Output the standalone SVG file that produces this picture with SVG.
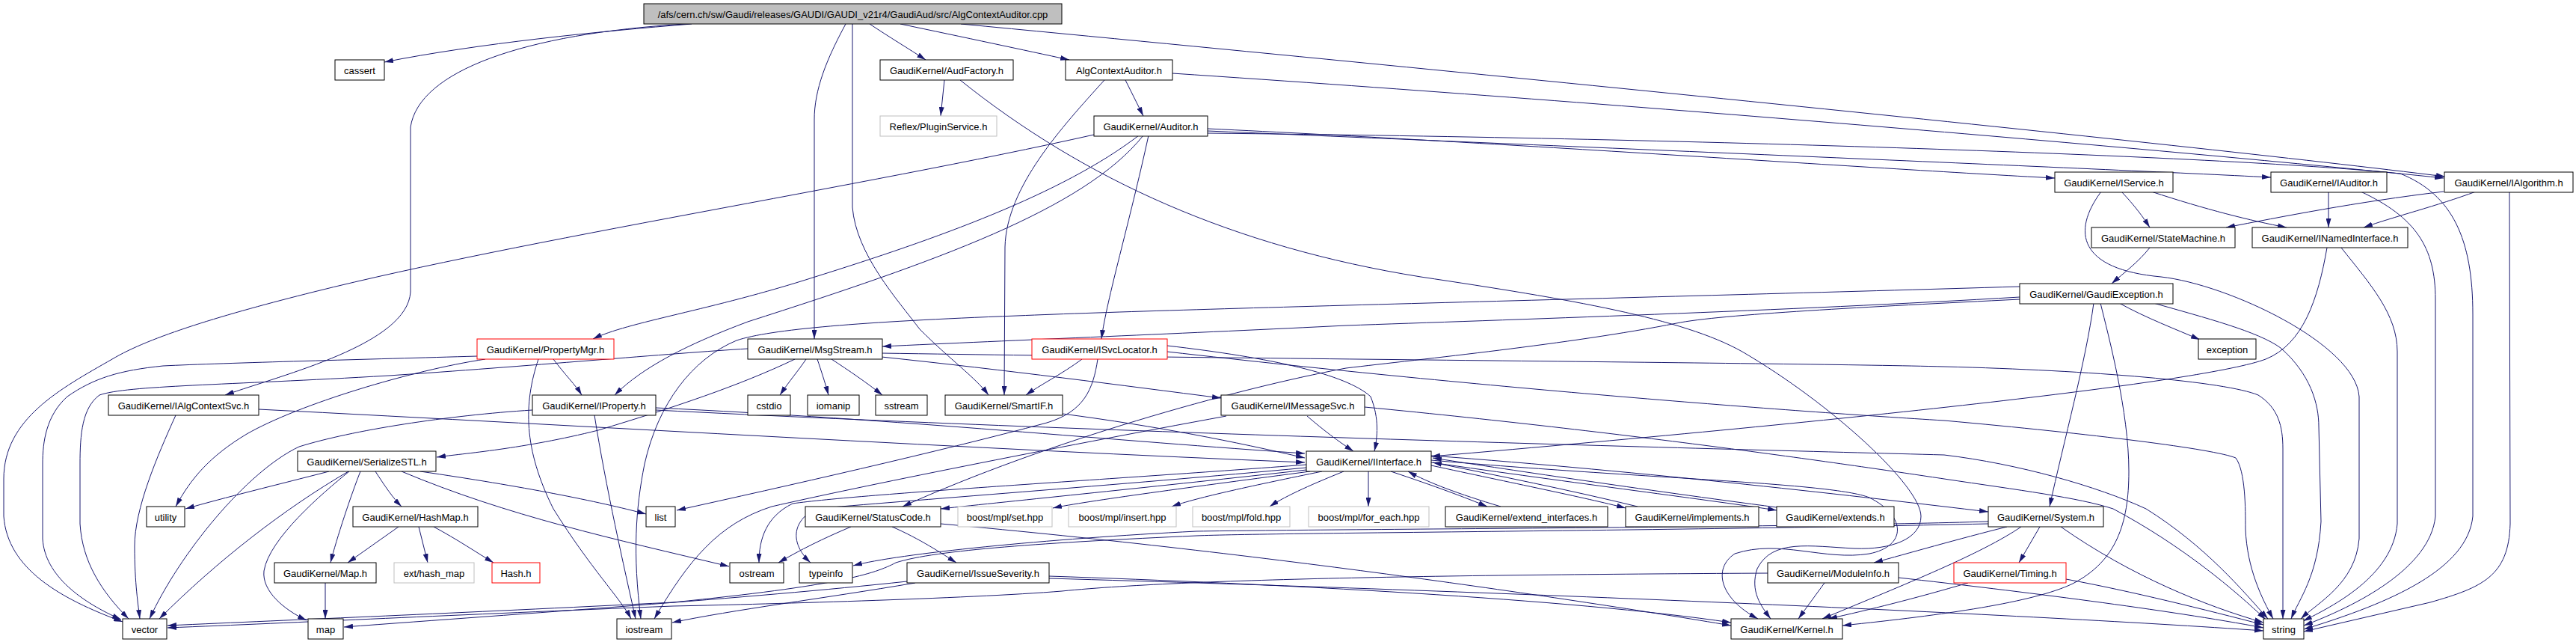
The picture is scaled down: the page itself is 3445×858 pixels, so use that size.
<svg xmlns="http://www.w3.org/2000/svg" width="3445" height="858" viewBox="0 0 3445 858">
<style>
.n rect{fill:#fff;stroke:#000;stroke-width:1}
.n.g rect{stroke:#bfbfbf}
.n.r rect{stroke:#f00}
.n.root rect{fill:#bfbfbf}
.n text{font-family:"Liberation Sans",Arial,sans-serif;font-size:13px;text-anchor:middle;fill:#000}
#edges path{fill:none;stroke:#191970;stroke-width:1;marker-end:url(#a)}
</style>
<defs>
<marker id="a" viewBox="0 0 12 7" refX="12" refY="3.5" markerWidth="12" markerHeight="7" orient="auto" markerUnits="userSpaceOnUse"><path d="M0,0L12,3.5L0,7z" fill="#191970"/></marker>
</defs>
<rect width="3445" height="858" fill="#fff"/>
<g id="edges">
<path d="M925,32 C800,42 640,58 514,83"/>
<path d="M917,32 C700,45 560,95 549,170 L549,390 C545,460 380,500 301,528"/>
<path d="M1163,32 C1190,50 1215,65 1238,80"/>
<path d="M1204,32 C1290,50 1370,67 1430,80"/>
<path d="M1131,32 C1105,80 1089,120 1089,160 L1089,453"/>
<path d="M1140,32 L1140,277 C1145,340 1200,400 1230,440 C1270,480 1305,505 1322,528"/>
<path d="M1285,32 C2000,100 2900,190 3270,236"/>
<path d="M1263,107 L1258,155"/>
<path d="M1284,107 C1450,240 1650,330 1900,370 C2100,400 2250,425 2330,470 C2450,540 2569,650 2569,690 C2569,720 2530,735 2480,733 C2420,730 2370,720 2350,760 C2340,790 2355,810 2368,827"/>
<path d="M1505,107 L1529,155"/>
<path d="M1477,107 C1420,170 1346,250 1344,330 L1343,528"/>
<path d="M1568,98 C2200,140 2900,200 3268,238"/>
<path d="M1463,180 C1150,250 700,320 420,390 C300,420 200,450 150,480 C80,520 5,560 5,640 L5,690 C10,760 80,800 164,831"/>
<path d="M1523,181 C1420,260 1250,320 1090,370 C950,415 840,430 793,453"/>
<path d="M1529,181 C1450,280 1250,350 1000,430 C920,460 860,490 822,528"/>
<path d="M1536,181 C1510,300 1480,400 1473,453"/>
<path d="M1615,172 C2000,190 2500,225 2748,238"/>
<path d="M1615,175 C2200,200 2800,225 3037,237"/>
<path d="M1615,178 C2300,185 3000,210 3210,232 C3280,260 3307,320 3307,420 L3307,690 C3300,760 3200,805 3081,841"/>
<path d="M2837,256 C2855,275 2866,290 2875,304"/>
<path d="M2877,256 C2950,280 3010,295 3058,304"/>
<path d="M2810,256 C2770,310 2780,360 2890,370 C2980,380 3150,460 3155,530 L3155,720 C3150,780 3100,805 3077,827"/>
<path d="M3114,256 L3114,304"/>
<path d="M3157,256 C3230,290 3257,330 3257,400 L3257,690 C3250,760 3150,810 3081,836"/>
<path d="M3268,256 C3150,270 3050,290 2977,304"/>
<path d="M3311,256 C3260,275 3200,290 3161,304"/>
<path d="M3356,256 L3357,700 C3355,770 3320,785 3250,805 L3081,844"/>
<path d="M2875,331 C2860,350 2840,365 2824,379"/>
<path d="M3112,331 C3100,400 3080,460 3030,480 C2950,510 2500,560 1914,610"/>
<path d="M3131,331 C3170,380 3206,420 3206,470 L3206,700 C3200,770 3120,810 3080,830"/>
<path d="M2701,397 C2400,415 2000,428 1800,435 C1600,445 1350,455 1180,463"/>
<path d="M2701,400 C2500,410 2300,420 2242,432 C2100,460 1900,480 1800,492 C1650,520 1400,590 1207,677"/>
<path d="M2701,383 C2200,398 1600,412 1360,422 C1150,430 1030,440 985,455 C925,480 880,540 862,620 C850,680 846,740 857,827"/>
<path d="M2800,405 C2790,480 2760,590 2741,677"/>
<path d="M2809,405 C2820,450 2847,550 2847,630 C2847,700 2830,750 2772,780 C2720,805 2600,822 2464,836"/>
<path d="M2834,405 C2870,425 2910,440 2942,454"/>
<path d="M2880,405 C2950,425 3020,443 3050,465 C3090,500 3101,540 3101,570 L3104,697 C3100,770 3075,800 3064,827"/>
<path d="M1078,480 C1068,495 1055,510 1043,528"/>
<path d="M1093,480 C1098,495 1103,510 1108,528"/>
<path d="M1112,480 C1135,495 1160,512 1180,528"/>
<path d="M1179,477 C1350,495 1500,515 1633,532"/>
<path d="M1063,480 C990,515 900,545 800,575 C700,600 620,606 584,611"/>
<path d="M1000,466 C900,472 700,490 520,502 C300,515 170,515 133,528 C110,545 107,580 107,620 L107,700 C110,750 135,790 172,827"/>
<path d="M1179,472 C1700,480 2400,485 2600,490 C2800,495 2977,510 3020,528 C3047,545 3053,570 3053,600 L3053,827"/>
<path d="M1447,480 C1420,500 1390,515 1372,528"/>
<path d="M1561,462 C1700,478 1800,500 1833,530 C1845,560 1842,585 1838,603"/>
<path d="M1561,470 C2000,520 2400,550 2600,562 C2800,580 2961,600 2990,612 C3003,630 3003,680 3003,707 C3005,760 3025,800 3040,827"/>
<path d="M1468,480 C1462,520 1450,550 1400,565 C1250,605 1050,650 905,682"/>
<path d="M1421,553 C1550,570 1650,590 1745,612"/>
<path d="M1748,556 C1770,575 1790,590 1810,603"/>
<path d="M1640,556 C1400,600 1150,650 1032,677 C960,700 920,750 875,827"/>
<path d="M1825,544 C2200,580 2500,625 2600,640 C2700,655 2780,665 2826,680 C2920,730 2990,790 3030,828"/>
<path d="M235,555 C210,610 180,680 180,730 C180,780 185,810 187,827"/>
<path d="M346,547 C800,570 1300,600 1745,618"/>
<path d="M877,545 C1200,560 1500,590 1745,606"/>
<path d="M877,548 C1500,580 2300,600 2600,608 C2700,620 2805,650 2870,680 C2950,730 3000,790 3033,827"/>
<path d="M795,555 C810,650 835,760 850,827"/>
<path d="M712,548 C600,555 470,575 400,597 C330,630 240,740 200,827"/>
<path d="M740,480 C755,500 770,515 778,528"/>
<path d="M720,480 C700,540 700,600 740,680 C790,760 830,800 844,827"/>
<path d="M649,480 C550,495 400,540 330,580 C280,610 255,640 235,677"/>
<path d="M638,476 C500,480 300,485 218,489 C160,495 126,505 90,530 C62,555 57,590 57,620 L57,720 C60,770 110,805 162,828"/>
<path d="M440,630 C370,648 300,665 248,680"/>
<path d="M466,630 C380,680 290,750 213,827"/>
<path d="M467,630 C430,660 360,720 353,763 C350,790 380,815 410,829"/>
<path d="M482,630 C470,660 450,720 442,752"/>
<path d="M502,630 C515,650 525,665 537,677"/>
<path d="M537,630 C680,690 820,720 975,757"/>
<path d="M562,630 C700,650 800,670 864,687"/>
<path d="M533,704 L465,752"/>
<path d="M560,704 L572,752"/>
<path d="M580,704 C610,720 640,740 660,752"/>
<path d="M435,779 L435,827"/>
<path d="M1747,621 C1500,640 1150,660 1060,673 C1025,690 1015,720 1015,752"/>
<path d="M1747,625 C1500,648 1200,670 1090,680 C1055,700 1060,730 1084,752"/>
<path d="M1747,628 C1550,650 1350,670 1258,680"/>
<path d="M1752,630 C1600,650 1450,670 1408,679"/>
<path d="M1768,630 C1680,648 1600,665 1567,677"/>
<path d="M1797,630 C1760,645 1720,662 1698,677"/>
<path d="M1830,630 L1830,677"/>
<path d="M1860,630 C1920,650 1960,665 1989,677"/>
<path d="M2007,677 C1950,660 1910,645 1883,630"/>
<path d="M1914,622 C2020,645 2120,665 2174,679"/>
<path d="M2190,677 C2100,655 2000,635 1916,618"/>
<path d="M1914,618 C2100,645 2300,670 2376,682"/>
<path d="M2376,678 C2200,655 2000,625 1916,612"/>
<path d="M1914,609 C2200,630 2500,665 2659,684"/>
<path d="M1914,615 C2200,640 2450,645 2500,665 C2550,690 2550,730 2500,740 C2440,750 2380,720 2320,740 C2290,760 2300,800 2351,827"/>
<path d="M2684,704 C2620,720 2550,740 2506,752"/>
<path d="M2703,704 C2650,740 2550,780 2437,827"/>
<path d="M2728,704 L2700,752"/>
<path d="M2756,704 C2850,770 2950,810 3027,832"/>
<path d="M2659,697 C2400,705 1800,707 1600,710 C1400,720 1200,740 1141,756"/>
<path d="M2659,700 C2200,710 1700,712 1600,716 C1400,725 1250,735 1198,752 C1170,767 1120,783 900,805 C600,820 400,828 224,836"/>
<path d="M2440,779 L2405,827"/>
<path d="M2539,772 C2700,790 2900,815 3027,839"/>
<path d="M2364,766 C2000,768 1600,772 1420,790 C1300,800 1000,808 900,810 C600,822 400,832 224,839"/>
<path d="M1213,777 C1000,800 700,820 460,838"/>
<path d="M1224,779 C1100,800 980,815 899,832"/>
<path d="M1403,770 C1700,780 2100,800 2315,832"/>
<path d="M1403,773 C2000,790 2700,820 3027,843"/>
<path d="M1138,704 C1100,720 1070,735 1041,752"/>
<path d="M1193,704 C1230,720 1260,740 1279,752"/>
<path d="M1258,700 C1700,740 2100,800 2315,836"/>
<path d="M2632,779 C2560,800 2500,815 2445,827"/>
<path d="M2763,774 C2850,790 2950,815 3027,835"/>
</g>
<g id="n_afs" class="n root"><rect x="861" y="5" width="559" height="27"/><text x="1140.5" y="24">/afs/cern.ch/sw/Gaudi/releases/GAUDI/GAUDI_v21r4/GaudiAud/src/AlgContextAuditor.cpp</text></g>
<g id="n_cassert" class="n"><rect x="448" y="80" width="66" height="27"/><text x="481" y="99">cassert</text></g>
<g id="n_audfactory" class="n"><rect x="1177" y="80" width="178" height="27"/><text x="1266" y="99">GaudiKernel/AudFactory.h</text></g>
<g id="n_algctxaud" class="n"><rect x="1425" y="80" width="143" height="27"/><text x="1496.5" y="99">AlgContextAuditor.h</text></g>
<g id="n_reflex" class="n g"><rect x="1177" y="155" width="156" height="27"/><text x="1255" y="174">Reflex/PluginService.h</text></g>
<g id="n_auditor" class="n"><rect x="1463" y="155" width="152" height="27"/><text x="1539" y="174">GaudiKernel/Auditor.h</text></g>
<g id="n_iservice" class="n"><rect x="2748" y="230" width="158" height="27"/><text x="2827" y="249">GaudiKernel/IService.h</text></g>
<g id="n_iauditor" class="n"><rect x="3037" y="230" width="155" height="27"/><text x="3114.5" y="249">GaudiKernel/IAuditor.h</text></g>
<g id="n_ialgorithm" class="n"><rect x="3269" y="230" width="172" height="27"/><text x="3355" y="249">GaudiKernel/IAlgorithm.h</text></g>
<g id="n_statemachine" class="n"><rect x="2797" y="304" width="192" height="27"/><text x="2893" y="323">GaudiKernel/StateMachine.h</text></g>
<g id="n_inamed" class="n"><rect x="3012" y="304" width="208" height="27"/><text x="3116" y="323">GaudiKernel/INamedInterface.h</text></g>
<g id="n_gaudiexc" class="n"><rect x="2701" y="379" width="205" height="27"/><text x="2803.5" y="398">GaudiKernel/GaudiException.h</text></g>
<g id="n_propmgr" class="n r"><rect x="638" y="453" width="183" height="27"/><text x="729.5" y="472">GaudiKernel/PropertyMgr.h</text></g>
<g id="n_msgstream" class="n"><rect x="1000" y="453" width="180" height="27"/><text x="1090" y="472">GaudiKernel/MsgStream.h</text></g>
<g id="n_isvcloc" class="n r"><rect x="1380" y="453" width="181" height="27"/><text x="1470.5" y="472">GaudiKernel/ISvcLocator.h</text></g>
<g id="n_exception" class="n"><rect x="2940" y="453" width="77" height="27"/><text x="2978.5" y="472">exception</text></g>
<g id="n_ialgctxsvc" class="n"><rect x="145" y="528" width="201" height="27"/><text x="245.5" y="547">GaudiKernel/IAlgContextSvc.h</text></g>
<g id="n_iproperty" class="n"><rect x="712" y="528" width="165" height="27"/><text x="794.5" y="547">GaudiKernel/IProperty.h</text></g>
<g id="n_cstdio" class="n"><rect x="1000" y="528" width="57" height="27"/><text x="1028.5" y="547">cstdio</text></g>
<g id="n_iomanip" class="n"><rect x="1080" y="528" width="69" height="27"/><text x="1114.5" y="547">iomanip</text></g>
<g id="n_sstream" class="n"><rect x="1171" y="528" width="69" height="27"/><text x="1205.5" y="547">sstream</text></g>
<g id="n_smartif" class="n"><rect x="1264" y="528" width="157" height="27"/><text x="1342.5" y="547">GaudiKernel/SmartIF.h</text></g>
<g id="n_imsgsvc" class="n"><rect x="1633" y="528" width="192" height="27"/><text x="1729" y="547">GaudiKernel/IMessageSvc.h</text></g>
<g id="n_serialize" class="n"><rect x="398" y="603" width="185" height="27"/><text x="490.5" y="622">GaudiKernel/SerializeSTL.h</text></g>
<g id="n_iinterface" class="n"><rect x="1747" y="603" width="167" height="27"/><text x="1830.5" y="622">GaudiKernel/IInterface.h</text></g>
<g id="n_utility" class="n"><rect x="196" y="677" width="51" height="27"/><text x="221.5" y="696">utility</text></g>
<g id="n_hashmap" class="n"><rect x="472" y="677" width="167" height="27"/><text x="555.5" y="696">GaudiKernel/HashMap.h</text></g>
<g id="n_list" class="n"><rect x="864" y="677" width="39" height="27"/><text x="883.5" y="696">list</text></g>
<g id="n_statuscode" class="n"><rect x="1077" y="677" width="181" height="27"/><text x="1167.5" y="696">GaudiKernel/StatusCode.h</text></g>
<g id="n_mplset" class="n g"><rect x="1281" y="677" width="126" height="27"/><text x="1344" y="696">boost/mpl/set.hpp</text></g>
<g id="n_mplinsert" class="n g"><rect x="1429" y="677" width="144" height="27"/><text x="1501" y="696">boost/mpl/insert.hpp</text></g>
<g id="n_mplfold" class="n g"><rect x="1595" y="677" width="130" height="27"/><text x="1660" y="696">boost/mpl/fold.hpp</text></g>
<g id="n_mplforeach" class="n g"><rect x="1750" y="677" width="161" height="27"/><text x="1830.5" y="696">boost/mpl/for_each.hpp</text></g>
<g id="n_extendif" class="n"><rect x="1933" y="677" width="217" height="27"/><text x="2041.5" y="696">GaudiKernel/extend_interfaces.h</text></g>
<g id="n_implements" class="n"><rect x="2174" y="677" width="178" height="27"/><text x="2263" y="696">GaudiKernel/implements.h</text></g>
<g id="n_extends" class="n"><rect x="2376" y="677" width="157" height="27"/><text x="2454.5" y="696">GaudiKernel/extends.h</text></g>
<g id="n_system" class="n"><rect x="2659" y="677" width="154" height="27"/><text x="2736" y="696">GaudiKernel/System.h</text></g>
<g id="n_maph" class="n"><rect x="367" y="752" width="136" height="27"/><text x="435" y="771">GaudiKernel/Map.h</text></g>
<g id="n_exthash" class="n g"><rect x="527" y="752" width="107" height="27"/><text x="580.5" y="771">ext/hash_map</text></g>
<g id="n_hash" class="n r"><rect x="658" y="752" width="64" height="27"/><text x="690" y="771">Hash.h</text></g>
<g id="n_ostream" class="n"><rect x="976" y="752" width="72" height="27"/><text x="1012" y="771">ostream</text></g>
<g id="n_typeinfo" class="n"><rect x="1069" y="752" width="71" height="27"/><text x="1104.5" y="771">typeinfo</text></g>
<g id="n_issuesev" class="n"><rect x="1213" y="752" width="190" height="27"/><text x="1308" y="771">GaudiKernel/IssueSeverity.h</text></g>
<g id="n_moduleinfo" class="n"><rect x="2364" y="752" width="175" height="27"/><text x="2451.5" y="771">GaudiKernel/ModuleInfo.h</text></g>
<g id="n_timing" class="n r"><rect x="2613" y="752" width="150" height="27"/><text x="2688" y="771">GaudiKernel/Timing.h</text></g>
<g id="n_vector" class="n"><rect x="164" y="827" width="59" height="27"/><text x="193.5" y="846">vector</text></g>
<g id="n_map" class="n"><rect x="412" y="827" width="47" height="27"/><text x="435.5" y="846">map</text></g>
<g id="n_iostream" class="n"><rect x="825" y="827" width="73" height="27"/><text x="861.5" y="846">iostream</text></g>
<g id="n_kernel" class="n"><rect x="2315" y="827" width="149" height="27"/><text x="2389.5" y="846">GaudiKernel/Kernel.h</text></g>
<g id="n_string" class="n"><rect x="3027" y="827" width="54" height="27"/><text x="3054" y="846">string</text></g>
</svg>
